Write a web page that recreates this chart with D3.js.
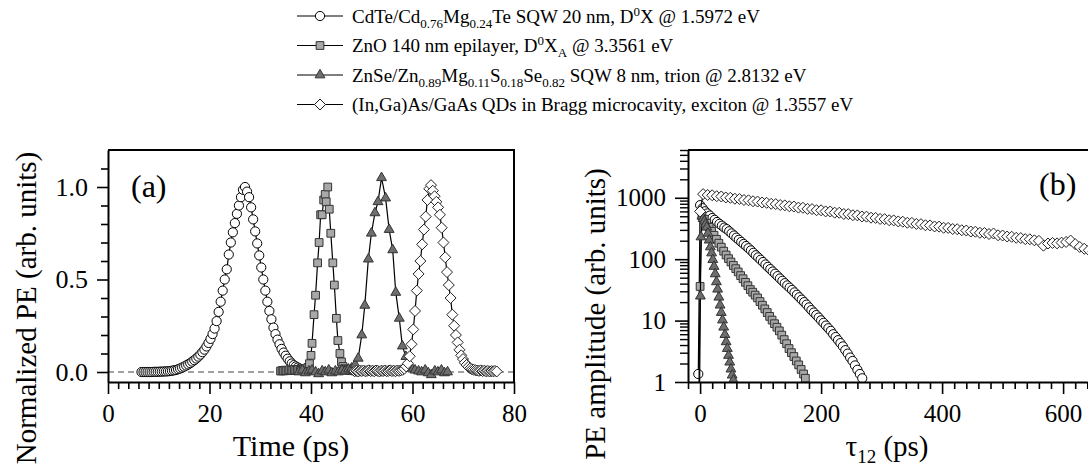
<!DOCTYPE html>
<html><head><meta charset="utf-8">
<script src="https://cdn.jsdelivr.net/npm/d3@7"></script>
<style>
body{margin:0;background:#fff}
svg{display:block}
text{font-family:"Liberation Serif","Times New Roman",serif;fill:#000}
</style>
</head><body>
<svg id="chart" width="1088" height="475"></svg>
<script>
// ---------------- DATA ----------------
// Panel (a): time (ps), normalized PE
const cdteA = [[6.6,0],[7.0,0],[7.4,0],[7.8,0],[8.2,0],[8.6,0],[9.0,.001],[9.4,.001],[9.8,.001],[10.2,.002],[10.6,.002],[11.0,.003],[11.4,.003],[11.8,.004],[12.2,.005],[12.6,.007],[13.0,.009],[13.4,.011],[13.8,.015],[14.2,.019],[14.6,.024],[15.0,.029],[15.4,.035],[15.8,.041],[16.2,.048],[16.6,.056],[17.0,.064],[17.4,.073],[17.8,.083],[18.2,.094],[18.6,.107],[19.0,.121],[19.4,.138],[19.8,.157],[20.2,.179],[20.6,.205],[21.0,.235],[21.4,.275],[21.8,.325],[22.2,.38],[22.6,.44],[23.0,.5],[23.4,.555],[23.8,.635],[24.2,.7],[24.6,.755],[25.0,.805],[25.4,.855],[25.8,.9],[26.2,.945],[26.6,.985],[27.0,1.0],[27.4,.975],[27.8,.945],[28.2,.89],[28.6,.825],[29.0,.76],[29.4,.695],[29.8,.63],[30.2,.565],[30.6,.5],[31.0,.44],[31.4,.38],[31.8,.33],[32.2,.285],[32.6,.24],[33.0,.205],[33.4,.175],[33.8,.15],[34.2,.125],[34.6,.105],[35.0,.088],[35.4,.072],[35.8,.058],[36.2,.046],[36.6,.037],[37.0,.03],[37.4,.024],[37.8,.018],[38.2,.012]];
const znoA = [[34.0,.005],[34.3,.008],[34.6,.006],[34.9,.010],[35.2,.007],[35.5,.009],[35.8,.012],[36.1,.008],[36.4,.010],[36.7,.013],[37.0,.009],[37.3,.011],[37.6,.014],[37.9,.010],[38.2,.012],[38.5,.015],[38.8,.013],[39.1,.018],[39.4,.025],[39.7,.045],[40.0,.09],[40.2,.155],[40.6,.31],[40.9,.415],[41.3,.59],[41.6,.70],[41.9,.85],[42.2,.85],[42.5,.93],[42.8,.96],[43.0,.92],[43.3,1.0],[43.6,.88],[43.9,.75],[44.3,.59],[44.6,.47],[45.0,.29],[45.3,.17],[45.7,.10],[46.0,.055],[46.3,.03],[46.6,.018],[46.9,.012],[47.2,.010],[47.5,.008],[47.8,.011],[48.1,.007],[48.4,.009],[48.7,.006],[49.0,.008],[49.3,.005]];
const znseA = [[37.6,.00],[38.3,.01],[38.9,-.005],[39.6,.005],[40.2,.01],[40.9,.00],[41.5,-.01],[42.2,.005],[42.8,.00],[43.5,.01],[44.1,-.005],[44.8,.005],[45.4,.00],[46.1,.01],[46.7,.005],[47.4,.015],[48.0,.02],[48.7,.04],[49.3,.074],[50.0,.20],[50.6,.36],[51.3,.61],[51.9,.75],[52.6,.86],[53.2,.92],[53.9,1.05],[54.7,.94],[55.4,.77],[56.1,.66],[56.7,.43],[57.4,.29],[58.0,.14],[58.7,.083],[59.3,.04],[59.9,.02],[60.5,.01],[61.2,.005],[61.8,.00],[62.5,.01],[63.1,-.005],[63.7,-.015],[64.4,.005],[65.0,.00],[65.7,.01],[66.3,-.005],[66.9,.00]];
const ingaasA = [[48.6,.004],[48.95,.006],[49.3,.003],[49.65,.007],[50.0,.005],[50.35,.008],[50.7,.004],[51.05,.006],[51.4,.009],[51.75,.005],[52.1,.007],[52.45,.004],[52.8,.008],[53.15,.006],[53.5,.003],[53.85,.007],[54.2,.005],[54.55,.008],[54.9,.004],[55.25,.006],[55.6,.009],[55.95,.005],[56.3,.007],[56.65,.004],[57.0,.008],[57.35,.006],[57.7,.009],[58.05,.012],[58.4,.018],[58.75,.030],[59.1,.047],[59.45,.085],[59.8,.15],[60.15,.23],[60.5,.33],[60.85,.44],[61.2,.53],[61.55,.60],[61.9,.69],[62.25,.77],[62.6,.84],[62.95,.93],[63.3,.99],[63.65,1.01],[64.0,.98],[64.35,.95],[64.7,.92],[65.05,.89],[65.4,.85],[65.75,.78],[66.1,.70],[66.45,.62],[66.8,.54],[67.15,.47],[67.5,.40],[67.85,.31],[68.2,.25],[68.55,.20],[68.9,.16],[69.25,.12],[69.6,.09],[69.95,.07],[70.3,.05],[70.65,.038],[71.0,.028],[71.35,.02],[71.7,.015],[72.05,.012],[72.4,.01],[72.75,.008],[73.1,.006],[73.45,.009],[73.8,.005],[74.15,.007],[74.5,.004],[74.85,.006],[75.2,.003],[75.55,.005],[75.9,.004],[76.25,.006],[76.6,.003]];

// Panel (b): tau12 (ps), PE amplitude
const cdteB = [[-3,1.35],[0,759],[4,676],[8,603],[12,556],[16,513],[20,468],[24,437],[28,403],[32,376],[36,351],[40,327],[44,309],[48,285],[52,263],[56,243],[60,224],[64,207],[68,191],[72,177],[76,164],[80,151],[84,139],[88,127],[92,116],[96,107],[100,98],[104,90],[108,82],[112,75],[116,69],[120,63],[124,58],[128,53],[132,48.5],[136,44.5],[140,40.7],[144,37.4],[148,34.4],[152,31.6],[156,28.8],[160,26.3],[164,24.0],[168,21.9],[172,20.0],[176,18.2],[180,16.4],[184,14.8],[188,13.5],[192,12.3],[196,11.2],[200,10.1],[204,9.2],[208,8.3],[212,7.5],[216,6.8],[220,6.0],[224,5.4],[228,4.8],[232,4.3],[236,3.8],[240,3.3],[244,2.9],[248,2.5],[252,2.2],[256,1.86],[260,1.58],[264,1.35],[268,1.15]];
const znoB = [[-2,0.6],[0,36],[3,513],[7,447],[11,385],[15,331],[19,285],[23,245],[27,211],[31,182],[35,157],[39,135],[43,117],[47,102],[51,90],[55,79],[59,70],[63,62],[67,54],[71,48],[75,42],[79,37],[83,32],[87,29],[91,26],[95,23.4],[99,20.4],[103,17.8],[107,15.5],[111,13.5],[115,11.7],[119,10.2],[123,8.9],[127,7.8],[131,6.8],[135,5.8],[139,4.9],[143,4.2],[147,3.5],[151,3.0],[155,2.6],[159,2.2],[163,1.9],[167,1.6],[171,1.35],[174,1.15]];
const znseB = [[-1,0.5],[0.5,25],[1.5,230],[3,501],[5,457],[7,417],[9,372],[11,331],[13,263],[15,204],[17,158],[19,126],[21,98],[23,76],[25,57.5],[27,42.7],[29,32.4],[31,24],[33,17.8],[35,13.5],[37,10.2],[39,7.8],[41,5.9],[43,4.5],[45,3.5],[47,2.7],[49,2.1],[51,1.62],[53,1.29],[55,1.07]];
const ingaasB = [[0,600],[5,1148],[12.5,1110],[20,1098],[27.5,1062],[35,1050],[42.5,1012],[50,1000],[57.5,965],[65,955],[72.5,920],[80,910],[87.5,878],[95,868],[102.5,838],[110,828],[117.5,798],[125,790],[132.5,762],[140,752],[147.5,726],[155,720],[162.5,692],[170,688],[177.5,660],[185,655],[192.5,628],[200,625],[207.5,600],[215,598],[222.5,572],[230,570],[237.5,545],[245,542],[252.5,520],[260,517],[267.5,496],[275,493],[282.5,474],[290,470],[297.5,452],[305,449],[312.5,431],[320,428],[327.5,412],[335,408],[342.5,392],[350,390],[357.5,375],[365,372],[372.5,357],[380,355],[387.5,341],[395,339],[402.5,325],[410,323],[417.5,310],[425,308],[432.5,296],[440,293],[447.5,282],[455,280],[462.5,269],[470,267],[477.5,257],[485,262],[492.5,245],[500,243],[507.5,234],[515,232],[522.5,223],[530,221],[537.5,212],[545,211],[552.5,203],[560,199],[567.5,166],[575,180],[582.5,184],[590,181],[597.5,186],[605,191],[612.5,201],[620,176],[627.5,158],[635,148],[642.5,140],[650,135]];

// Ticks
const aXMajor = [0,20,40,60,80];
const aYMajor = [0,0.5,1.0];
const bXMajor = [0,200,400,600];
const bYMajor = [1,10,100,1000];

// ---------------- DRAWING ----------------
const svg = d3.select("#chart");

const markers = {
  circle:   {d: d3.symbol(d3.symbolCircle, Math.PI*4.6*4.6)(), fill:"#fff", stroke:"#000"},
  square:   {d: d3.symbol(d3.symbolSquare, 60)(), fill:"#a8a8a8", stroke:"#333"},
  triangle: {d: d3.symbol(d3.symbolTriangle, 42)(), fill:"#6e6e6e", stroke:"#333"},
  diamond:  {d: "M0,-5.5L5.5,0L0,5.5L-5.5,0Z", fill:"#fff", stroke:"#222"}
};

function drawSeries(g, data, x, y, type) {
  const m = markers[type];
  g.append("path").datum(data)
    .attr("fill","none").attr("stroke","#000").attr("stroke-width",1.2)
    .attr("d", d3.line().x(d=>x(d[0])).y(d=>y(d[1])));
  g.append("g").selectAll("path").data(data).join("path")
    .attr("transform", d=>`translate(${x(d[0])},${y(d[1])})`)
    .attr("d", m.d).attr("fill", m.fill).attr("stroke", m.stroke).attr("stroke-width",1);
}

function styleAxis(g, labelSize) {
  g.select(".domain").attr("stroke","#000").attr("stroke-width",2);
  g.selectAll(".tick line").attr("stroke","#000").attr("stroke-width",1.6);
  g.selectAll(".tick text").style("font-size", labelSize+"px")
    .style("font-family",'"Liberation Serif","Times New Roman",serif').attr("fill","#000");
}

const defs = svg.append("defs");

// ----- Panel (a) -----
const ax = d3.scaleLinear().domain([0,80]).range([108,514]);
const ay = d3.scaleLinear().domain([-0.054,1.2]).range([382,150]);
defs.append("clipPath").attr("id","clipA").append("rect")
  .attr("x",108).attr("y",150).attr("width",406).attr("height",232);

const gA = svg.append("g");
gA.append("line").attr("x1",ax(0)).attr("x2",ax(80)).attr("y1",ay(0)).attr("y2",ay(0))
  .attr("stroke","#444").attr("stroke-width",1.2).attr("stroke-dasharray","6,4");
const plotA = gA.append("g").attr("clip-path","url(#clipA)");
drawSeries(plotA, cdteA, ax, ay, "circle");
drawSeries(plotA, znoA, ax, ay, "square");
drawSeries(plotA, znseA, ax, ay, "triangle");
drawSeries(plotA, ingaasA, ax, ay, "diamond");

const aMinorX = d3.range(2,80,2).filter(v=>v%20!==0);
const aMinorY = [0.1,0.2,0.3,0.4,0.6,0.7,0.8,0.9,1.1];
gA.append("g").attr("transform","translate(0,382)")
  .call(d3.axisBottom(ax).tickValues(aMinorX).tickSize(7).tickFormat(""))
  .call(g=>{g.select(".domain").remove(); g.selectAll("line").attr("stroke","#000").attr("stroke-width",1.6);});
gA.append("g").attr("transform","translate(108,0)")
  .call(d3.axisLeft(ay).tickValues(aMinorY).tickSize(7).tickFormat(""))
  .call(g=>{g.select(".domain").remove(); g.selectAll("line").attr("stroke","#000").attr("stroke-width",1.6);});
gA.append("g").attr("transform","translate(0,382)")
  .call(d3.axisBottom(ax).tickValues(aXMajor).tickSize(12).tickSizeOuter(0).tickPadding(10).tickFormat(d3.format("d")))
  .call(g=>styleAxis(g,25));
gA.append("g").attr("transform","translate(108,0)")
  .call(d3.axisLeft(ay).tickValues(aYMajor).tickSize(11).tickSizeOuter(0).tickPadding(9).tickFormat(d3.format(".1f")))
  .call(g=>styleAxis(g,26));
gA.append("path").attr("d",`M108,150H514V382`).attr("fill","none").attr("stroke","#000").attr("stroke-width",2);
gA.append("text").attr("x",131).attr("y",197).style("font-size","32px").text("(a)");
gA.append("text").attr("x",291).attr("y",456).attr("text-anchor","middle").style("font-size","30px").text("Time (ps)");
gA.append("text").attr("transform","translate(36,308) rotate(-90)").attr("text-anchor","middle")
  .style("font-size","29px").text("Normalized PE (arb. units)");

// ----- Panel (b) -----
const bx = d3.scaleLinear().domain([-20,640]).range([688,1087.3]);
const by = d3.scaleLog().domain([1,6000]).range([382,150]);
defs.append("clipPath").attr("id","clipB").append("rect")
  .attr("x",688).attr("y",150).attr("width",410).attr("height",232);

const gB = svg.append("g");
const plotB = gB.append("g").attr("clip-path","url(#clipB)");
drawSeries(plotB, cdteB, bx, by, "circle");
drawSeries(plotB, znoB, bx, by, "square");
drawSeries(plotB, znseB, bx, by, "triangle");
drawSeries(plotB, ingaasB, bx, by, "diamond");

const bMinorX = d3.range(-20,641,20).filter(v=>v%200!==0);
const bMinorY = [];
[1,10,100,1000].forEach(dec=>{for(let k=2;k<=9;k++){const v=k*dec; if(v<=6000) bMinorY.push(v);}});
gB.append("g").attr("transform","translate(0,382)")
  .call(d3.axisBottom(bx).tickValues(bMinorX).tickSize(7).tickFormat(""))
  .call(g=>{g.select(".domain").remove(); g.selectAll("line").attr("stroke","#000").attr("stroke-width",1.6);});
gB.append("g").attr("transform","translate(688,0)")
  .call(d3.axisLeft(by).tickValues(bMinorY).tickSize(8).tickFormat(""))
  .call(g=>{g.select(".domain").remove(); g.selectAll("line").attr("stroke","#000").attr("stroke-width",1.4);});
gB.append("g").attr("transform","translate(0,382)")
  .call(d3.axisBottom(bx).tickValues(bXMajor).tickSize(12).tickSizeOuter(0).tickPadding(10).tickFormat(d3.format("d")))
  .call(g=>styleAxis(g,25));
gB.append("g").attr("transform","translate(688,0)")
  .call(d3.axisLeft(by).tickValues(bYMajor).tickSize(13).tickSizeOuter(0).tickPadding(9).tickFormat(d3.format("d")))
  .call(g=>styleAxis(g,25));
gB.append("path").attr("d",`M688,150H1088`).attr("fill","none").attr("stroke","#000").attr("stroke-width",2);
gB.append("text").attr("x",1039).attr("y",195).style("font-size","32px").text("(b)");
const tb = gB.append("text").attr("x",887).attr("y",456).attr("text-anchor","middle").style("font-size","29px");
tb.append("tspan").text("τ");
tb.append("tspan").attr("dy",7).style("font-size","19px").text("12");
tb.append("tspan").attr("dy",-7).text(" (ps)");
gB.append("text").attr("transform","translate(605,314) rotate(-90)").attr("text-anchor","middle")
  .style("font-size","29px").text("PE amplitude (arb. units)");

// ----- Legend -----
const legendTypes = ["circle","square","triangle","diamond"];
const legendTexts = [
  [["CdTe/Cd",0],["0.76",1],["Mg",0],["0.24",1],["Te SQW 20 nm, D",0],["0",-1],["X @ 1.5972 eV",0]],
  [["ZnO 140 nm epilayer, D",0],["0",-1],["X",0],["A",1],[" @ 3.3561 eV",0]],
  [["ZnSe/Zn",0],["0.89",1],["Mg",0],["0.11",1],["S",0],["0.18",1],["Se",0],["0.82",1],[" SQW 8 nm, trion @ 2.8132 eV",0]],
  [["(In,Ga)As/GaAs QDs in Bragg microcavity, exciton @ 1.3557 eV",0]]
];
const legendY = [16,45.5,75,104.5];
const gL = svg.append("g");
legendTypes.forEach((t,i)=>{
  const y = legendY[i];
  gL.append("line").attr("x1",297).attr("x2",343).attr("y1",y).attr("y2",y)
    .attr("stroke","#000").attr("stroke-width",1.2);
  const m = markers[t];
  gL.append("path").attr("transform",`translate(320,${y})`).attr("d",m.d)
    .attr("fill",m.fill).attr("stroke",m.stroke).attr("stroke-width",1);
  const txt = gL.append("text").attr("x",352).attr("y",y+6.5).style("font-size","19px");
  let cur = 0;
  legendTexts[i].forEach(([s,k])=>{
    const target = k===1 ? 5 : (k===-1 ? -7 : 0);
    const ts = txt.append("tspan").attr("dy", target-cur).text(s);
    if(k!==0) ts.style("font-size","13px");
    cur = target;
  });
});
</script>
</body></html>
